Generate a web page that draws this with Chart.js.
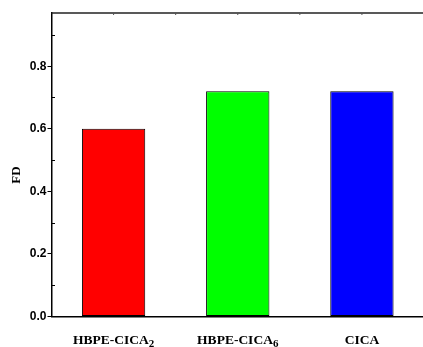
<!DOCTYPE html>
<html>
<head>
<meta charset="utf-8">
<script src="https://cdn.jsdelivr.net/npm/chart.js@4/dist/chart.umd.min.js"></script>
<style>
  html, body { margin: 0; padding: 0; background: #fff; overflow: hidden; }
  #wrap { width: 430px; height: 347px; }
</style>
</head>
<body>
<div id="wrap"><canvas id="fdChart"></canvas></div>
<script>
// Daten
const categories = ["HBPE-CICA", "HBPE-CICA", "CICA"];
const subscripts = ["2", "6", ""];
const fdValues = [0.60, 0.72, 0.72];
const barColors = ["#ff0000", "#00ff00", "#0000ff"];
const yTicks = [0.0, 0.2, 0.4, 0.6, 0.8];
const yMinorTicks = [0.1, 0.3, 0.5, 0.7, 0.9];
const yMax = 0.97;

// Rahmen, Nebenstriche, Achsentitel und x-Beschriftungen mit Index zeichnen
const framePlugin = {
    id: "frame",
    afterDraw(chart) {
        const ctx = chart.ctx;
        const area = chart.chartArea;
        const xs = chart.scales.x;
        const ys = chart.scales.y;
        ctx.save();
        // obere Rahmenlinie
        ctx.strokeStyle = "#222";
        ctx.lineWidth = 1.5;
        ctx.beginPath();
        ctx.moveTo(area.left, area.top);
        ctx.lineTo(area.right, area.top);
        ctx.stroke();
        // kleine Striche oben
        ctx.lineWidth = 1;
        ctx.strokeStyle = "#555";
        for (let i = 0; i < categories.length; i++) {
            const c = xs.getPixelForTick(i);
            const half = (xs.getPixelForTick(1) - xs.getPixelForTick(0)) / 2;
            [c, c + half].forEach(px => {
                ctx.beginPath();
                ctx.moveTo(px, area.top);
                ctx.lineTo(px, area.top + 2);
                ctx.stroke();
            });
        }
        // Nebenstriche der y-Achse nach innen
        ctx.strokeStyle = "#000";
        ctx.lineWidth = 1;
        yMinorTicks.forEach(v => {
            const py = Math.round(ys.getPixelForValue(v)) + 0.5;
            ctx.beginPath();
            ctx.moveTo(area.left, py);
            ctx.lineTo(area.left + 3.5, py);
            ctx.stroke();
        });
        // Achsentitel
        ctx.fillStyle = "#000";
        ctx.font = "bold 13px 'Liberation Serif', 'Times New Roman', serif";
        ctx.textAlign = "center";
        ctx.textBaseline = "middle";
        ctx.translate(17, 175);
        ctx.rotate(-Math.PI / 2);
        ctx.fillText("FD", 0, 0);
        ctx.setTransform(1, 0, 0, 1, 0, 0);
        // x-Beschriftungen mit tiefgestellter Zahl
        const mainFont = "bold 13.5px 'Liberation Serif', 'Times New Roman', serif";
        const subFont = "bold 11px 'Liberation Serif', 'Times New Roman', serif";
        ctx.textBaseline = "alphabetic";
        ctx.textAlign = "left";
        categories.forEach((label, i) => {
            const cx = xs.getPixelForTick(i);
            ctx.font = mainFont;
            const w1 = ctx.measureText(label).width;
            ctx.font = subFont;
            const w2 = subscripts[i] ? ctx.measureText(subscripts[i]).width : 0;
            const x0 = cx - (w1 + w2) / 2;
            const base = area.bottom + 27;
            ctx.font = mainFont;
            ctx.fillText(label, x0, base);
            if (subscripts[i]) {
                ctx.font = subFont;
                ctx.fillText(subscripts[i], x0 + w1, base + 3.5);
            }
        });
        ctx.restore();
    }
};

const ctx = document.getElementById("fdChart").getContext("2d");
const fdChart = new Chart(ctx, {
    type: "bar",
    data: {
        labels: categories.map((c, i) => c + subscripts[i]),
        datasets: [{
            data: fdValues,
            backgroundColor: barColors,
            borderColor: "#000",
            borderWidth: 1,
            borderSkipped: false,
            categoryPercentage: 1.0,
            barPercentage: 0.51
        }]
    },
    options: {
        responsive: true,
        maintainAspectRatio: false,
        animation: false,
        layout: { padding: { top: 13, right: 6, left: 0, bottom: 0 } },
        plugins: {
            legend: { display: false },
            tooltip: { enabled: false }
        },
        scales: {
            x: {
                grid: { display: false },
                ticks: { display: false },
                border: { display: true, color: "#000", width: 1.5 },
                afterFit(scale) { scale.height = 30.5; }
            },
            y: {
                min: 0,
                max: yMax,
                afterBuildTicks(scale) {
                    scale.ticks = yTicks.map(v => ({ value: v }));
                },
                ticks: {
                    color: "#000",
                    padding: 1,
                    font: { family: "'Liberation Sans', Arial, sans-serif", size: 12, weight: "bold" },
                    callback: v => Number(v).toFixed(1)
                },
                grid: {
                    drawOnChartArea: false,
                    drawTicks: true,
                    tickLength: 4,
                    color: "#000"
                },
                border: { display: true, color: "#000", width: 1.5 },
                afterFit(scale) { scale.width = 51.5; }
            }
        }
    },
    plugins: [framePlugin]
});
</script>
</body>
</html>
